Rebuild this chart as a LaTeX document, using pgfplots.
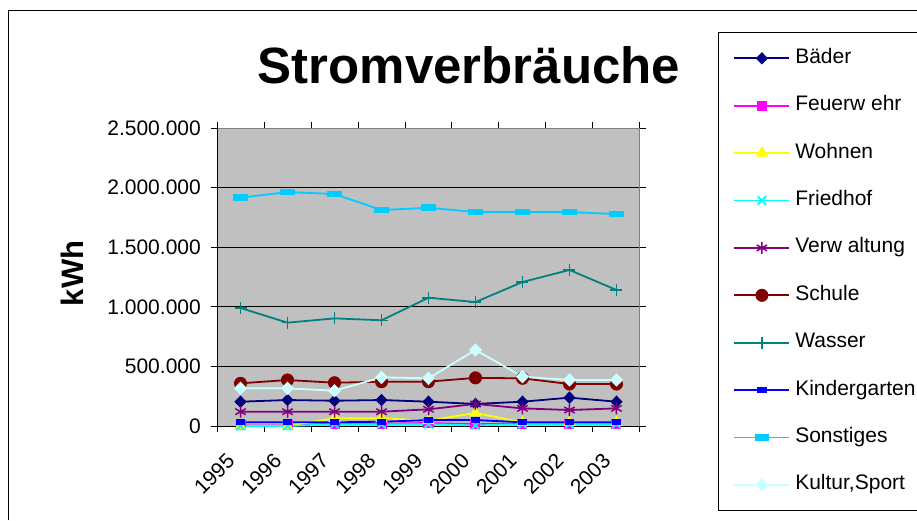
\documentclass[border=0pt]{standalone}
\usepackage{fontspec}
\setmainfont{Liberation Sans}
\usepackage{pgfplots}
\pgfplotsset{compat=1.18}
\definecolor{cBaeder}{RGB}{0,0,128}
\definecolor{cFeuer}{RGB}{255,0,255}
\definecolor{cWohnen}{RGB}{255,255,0}
\definecolor{cFried}{RGB}{0,255,255}
\definecolor{cVerw}{RGB}{128,0,128}
\definecolor{cSchule}{RGB}{128,0,0}
\definecolor{cWasser}{RGB}{0,128,128}
\definecolor{cKinder}{RGB}{0,0,255}
\definecolor{cSonst}{RGB}{0,204,255}
\definecolor{cKultur}{RGB}{204,255,255}
\definecolor{plotgray}{RGB}{192,192,192}
\definecolor{bordergray}{RGB}{128,128,128}
\begin{document}
\begin{tikzpicture}
\useasboundingbox (0pt,-520pt) rectangle (917pt,0pt);
\draw[black, line width=1pt] (8pt,-520pt) -- (8pt,-10pt) -- (917pt,-10pt);
\node[anchor=base, inner sep=0pt, font=\fontsize{51}{60}\bfseries\selectfont] at (469pt,-83pt) {Stromverbräuche};
\node[anchor=base, rotate=90, inner sep=0pt, font=\fontsize{31}{36}\bfseries\selectfont] at (83pt,-273.5pt) {kWh};
\begin{axis}[
  at={(217pt,-426pt)}, anchor=south west,
  scale only axis, width=423pt, height=298pt,
  xmin=0.5, xmax=9.5, ymin=0, ymax=2500000,
  clip=false,
  axis background/.style={fill=plotgray},
  axis line style={draw=bordergray, line width=1pt},
  ytick={0,500000,1000000,1500000,2000000,2500000},
  scaled y ticks=false,
  ymajorgrids, grid style={black, line width=1pt},
  tick align=outside, major tick length=6pt,
  tick style={black, line width=1pt},
  yticklabel style={font=\fontsize{21}{25}\selectfont, inner sep=0pt, xshift=-10pt,
    /pgf/number format/fixed, /pgf/number format/1000 sep={.}, /pgf/number format/precision=0,
    /pgf/number format/assume math mode=true},
  xtick={1,2,3,4,5,6,7,8,9},
  xticklabels={1995,1996,1997,1998,1999,2000,2001,2002,2003},
  major x tick style={draw=none},
  minor xtick={0.5,1.5,2.5,3.5,4.5,5.5,6.5,7.5,8.5,9.5},
  minor tick length=6pt,
  minor x tick style={black, line width=1pt},
  xticklabel style={font=\fontsize{21}{25}\selectfont, inner sep=0pt, anchor=north east, xshift=-15pt, yshift=-20pt, rotate=45},
  legend style={at={(1.1837,1.3211)}, anchor=north west, draw=black, line width=1pt, fill=white,
    inner xsep=15.3pt, inner ysep=15.5pt, row sep=27.4pt, column sep=5pt,
    nodes={inner sep=0pt, text height=15pt, text depth=5pt, font=\fontsize{21}{25}\selectfont}},
  legend cell align=left,
  legend image code/.code={\draw[mark repeat=2,mark phase=2,#1] plot coordinates {(0pt,0pt) (27.5pt,0pt) (55pt,0pt)};},
]
\draw[black, line width=1pt] (rel axis cs:0,1) -- (rel axis cs:0,0) -- (rel axis cs:1,0);
\addplot[color=cBaeder, line width=1.8pt, mark=diamond*, mark size=5.5pt, mark options={solid, line width=1pt, fill=cBaeder, xscale=1.3}] coordinates {
(1,204000) (2,218000) (3,212000) (4,218000) (5,204000) (6,185000) (7,204000) (8,238000) (9,204000)};
\addlegendentry{Bäder}
\addplot[color=cFeuer, line width=1.8pt, mark=square*, mark size=4.5pt, mark options={solid, line width=1pt, fill=cFeuer}] coordinates {
(1,5000) (2,5000) (3,20000) (4,20000) (5,25000) (6,15000) (7,20000) (8,20000) (9,20000)};
\addlegendentry{Feuerw ehr}
\addplot[color=cWohnen, line width=1.8pt, mark=triangle*, mark size=6pt, mark options={solid, line width=1pt, fill=cWohnen}] coordinates {
(1,0) (2,0) (3,65000) (4,65000) (5,45000) (6,110000) (7,30000) (8,30000) (9,30000)};
\addlegendentry{Wohnen}
\addplot[color=cFried, line width=1.8pt, mark=x, mark size=6pt, mark options={solid, line width=1.8pt}] coordinates {
(1,0) (2,0) (3,15000) (4,15000) (5,15000) (6,5000) (7,15000) (8,15000) (9,15000)};
\addlegendentry{Friedhof}
\addplot[color=cVerw, line width=1.8pt, mark=asterisk, mark size=6pt, mark options={solid, line width=1.5pt}] coordinates {
(1,120000) (2,120000) (3,120000) (4,120000) (5,140000) (6,185000) (7,148000) (8,134000) (9,148000)};
\addlegendentry{Verw altung}
\addplot[color=cSchule, line width=1.8pt, mark=*, mark size=6pt, mark options={solid, line width=1pt, fill=cSchule}] coordinates {
(1,358000) (2,386000) (3,363000) (4,372000) (5,372000) (6,404000) (7,400000) (8,352000) (9,352000)};
\addlegendentry{Schule}
\addplot[color=cWasser, line width=1.8pt, mark=+, mark size=6pt, mark options={solid, line width=1.5pt}] coordinates {
(1,990000) (2,867000) (3,903000) (4,887000) (5,1076000) (6,1040000) (7,1208000) (8,1309000) (9,1141000)};
\addlegendentry{Wasser}
\addplot[color=cKinder, line width=1.8pt, mark=square*, mark size=2.6pt, mark options={solid, line width=1pt, fill=cKinder, xscale=1.7}] coordinates {
(1,31000) (2,31000) (3,31000) (4,36000) (5,50000) (6,50000) (7,31000) (8,31000) (9,31000)};
\addlegendentry{Kindergarten}
\addplot[color=cSonst, line width=1.8pt, mark=square*, mark size=2.8pt, mark options={solid, line width=1pt, fill=cSonst, xscale=2.4}] coordinates {
(1,1915000) (2,1963000) (3,1946000) (4,1812000) (5,1831000) (6,1795000) (7,1795000) (8,1795000) (9,1778000)};
\addlegendentry{Sonstiges}
\addplot[color=cKultur, line width=1.8pt, mark=diamond*, mark size=6pt, mark options={solid, line width=1pt, fill=cKultur, xscale=1.3}] coordinates {
(1,316000) (2,316000) (3,296000) (4,408000) (5,400000) (6,638000) (7,414000) (8,386000) (9,386000)};
\addlegendentry{Kultur,Sport}
\end{axis}
\end{tikzpicture}
\end{document}
